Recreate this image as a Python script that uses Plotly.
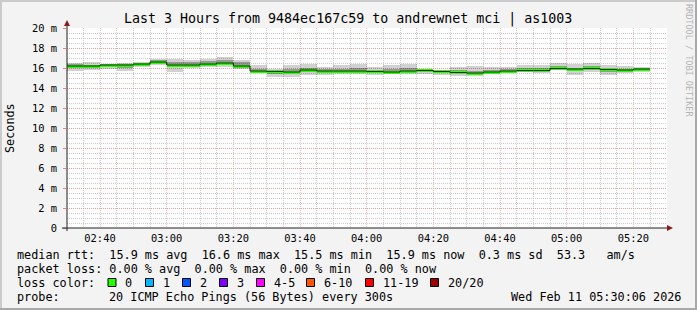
import pandas as pd
import plotly.graph_objects as go

# ---------------- data ----------------
interval_start = list(pd.date_range("2026-02-11 02:30:00", periods=35, freq="5min"))
step_ms = 300000

median_ms = [16.2, 16.2, 16.3, 16.3, 16.4, 16.6, 16.3, 16.3, 16.4, 16.5, 16.2, 15.7,
             15.65, 15.6, 15.8, 15.7, 15.7, 15.7, 15.65, 15.6, 15.7, 15.75, 15.65, 15.55,
             15.5, 15.6, 15.7, 15.75, 15.75, 15.95, 15.9, 15.95, 15.85, 15.8, 15.9]
smoke_max = [16.55, 16.6, 16.4, 16.5, 16.6, 16.95, 16.95, 16.85, 16.95, 17.1, 16.8, 16.3,
             15.95, 16.35, 16.45, 16.1, 16.3, 16.45, 16.1, 16.3, 16.45, 15.95, 15.8, 16.1,
             16.2, 16.1, 16.1, 16.3, 16.35, 16.5, 16.4, 16.5, 16.3, 16.25, 16.1]
smoke_min = [15.75, 15.8, 15.95, 15.7, 16.1, 16.3, 15.6, 16.0, 16.1, 16.1, 15.95, 15.55,
             15.1, 15.1, 15.3, 15.3, 15.4, 15.4, 15.3, 15.45, 15.45, 15.4, 15.3, 15.2,
             15.2, 15.6, 15.55, 15.6, 15.55, 15.8, 15.3, 15.6, 15.3, 15.55, 15.6]
inner_hi = [16.4, 16.3, 16.35, 16.35, 16.5, 16.8, 16.6, 16.6, 16.7, 16.8, 16.6, 15.9,
            15.8, 15.9, 16.0, 15.9, 15.9, 16.0, 15.8, 15.9, 16.0, 15.85, 15.8, 15.8,
            15.7, 15.8, 15.9, 16.0, 16.0, 16.2, 16.0, 16.2, 16.0, 15.95, 15.95]
inner_lo = [16.0, 16.1, 16.15, 16.0, 16.2, 16.4, 16.1, 16.2, 16.3, 16.3, 16.0, 15.6,
            15.4, 15.4, 15.6, 15.5, 15.6, 15.6, 15.5, 15.5, 15.6, 15.6, 15.5, 15.4,
            15.35, 15.5, 15.6, 15.65, 15.6, 15.85, 15.7, 15.8, 15.6, 15.7, 15.8]

y_tick_vals = [0, 2, 4, 6, 8, 10, 12, 14, 16, 18, 20]
y_tick_text = ["0", "2 m", "4 m", "6 m", "8 m", "10 m", "12 m", "14 m", "16 m", "18 m", "20 m"]

title_text = "Last 3 Hours from 9484ec167c59 to andrewnet mci | as1003"
legend_lines = [
    "median rtt:  15.9 ms avg  16.6 ms max  15.5 ms min  15.9 ms now  0.3 ms sd  53.3   am/s",
    "packet loss: 0.00 % avg  0.00 % max  0.00 % min  0.00 % now",
]
loss_labels = ["0", "1", "2", "3", "4-5", "6-10", "11-19", "20/20"]
loss_colors = ["#26ff00", "#00b8ff", "#0059ff", "#7e00ff", "#ff00ff", "#ff5500", "#ff0000", "#a00000"]
loss_box_x = [108, 145.5, 182.5, 219.5, 256.5, 306.5, 365.5, 430.5]
probe_text = "20 ICMP Echo Pings (56 Bytes) every 300s"
date_text = "Wed Feb 11 05:30:06 2026"

# --------------- geometry helpers (pixels -> paper) ---------------
PL, PR, PT, PB = 67, 667, 28, 228
W, H = 697, 310


def px(x, y):
    return (x - PL) / (PR - PL), (PB - y) / (PB - PT)


MONO = "DejaVu Sans Mono"
NB = "\u00a0"

fig = go.Figure()

# smoke: outer and inner bands
fig.add_trace(go.Bar(x=interval_start, y=[h - l for h, l in zip(smoke_max, smoke_min)],
                     base=smoke_min, width=step_ms, offset=0,
                     marker=dict(color="rgba(0,0,0,0.18)", line=dict(width=0)),
                     hoverinfo="skip"))
fig.add_trace(go.Bar(x=interval_start, y=[h - l for h, l in zip(inner_hi, inner_lo)],
                     base=inner_lo, width=step_ms, offset=0,
                     marker=dict(color="rgba(0,0,0,0.28)", line=dict(width=0)),
                     hoverinfo="skip"))
# thin dark median step line
fig.add_trace(go.Scatter(x=interval_start + [interval_start[-1] + pd.Timedelta(minutes=5)],
                         y=median_ms + [median_ms[-1]], mode="lines",
                         line=dict(color="#202020", width=1, shape="hv"),
                         hoverinfo="skip"))
# green median bands (loss colour 0)
band = 0.3
fig.add_trace(go.Bar(x=interval_start, y=[band] * len(median_ms),
                     base=[m - band / 2 for m in median_ms], width=step_ms, offset=0,
                     marker=dict(color=loss_colors[0], line=dict(width=0)),
                     hoverinfo="skip"))

shapes = []
# axis lines
x0, y0 = px(62, 228)
x1, _ = px(668, 228)
shapes.append(dict(type="line", xref="paper", yref="paper", x0=x0, y0=y0, x1=x1, y1=y0,
                   line=dict(color="#202020", width=1)))
ax, ay0 = px(67, 231)
_, ay1 = px(67, 24)
shapes.append(dict(type="line", xref="paper", yref="paper", x0=ax, y0=ay0, x1=ax, y1=ay1,
                   line=dict(color="#202020", width=1)))
# arrows
a1 = px(667, 225); a2 = px(673, 228); a3 = px(667, 231)
shapes.append(dict(type="path", xref="paper", yref="paper",
                   path=f"M {a1[0]} {a1[1]} L {a2[0]} {a2[1]} L {a3[0]} {a3[1]} Z",
                   fillcolor="#8b1a1a", line=dict(width=0)))
b1 = px(64, 26); b2 = px(67, 20); b3 = px(70, 26)
shapes.append(dict(type="path", xref="paper", yref="paper",
                   path=f"M {b1[0]} {b1[1]} L {b2[0]} {b2[1]} L {b3[0]} {b3[1]} Z",
                   fillcolor="#8b1a1a", line=dict(width=0)))
# loss colour swatches
for bx, col in zip(loss_box_x, loss_colors):
    p0 = px(bx, 286.5)
    p1 = px(bx + 8, 278.5)
    shapes.append(dict(type="rect", xref="paper", yref="paper", x0=p0[0], y0=p0[1], x1=p1[0], y1=p1[1],
                       fillcolor=col, line=dict(color="#000000", width=1)))
# 3D border
for (xa, ya, xb, yb, c) in [(0, 0, W, 2, "#cbcbcb"), (0, 0, 2, H, "#cbcbcb"),
                            (0, H - 2, W, H, "#a8a8a8"), (W - 2, 0, W, H, "#a8a8a8")]:
    p0 = px(xa, yb); p1 = px(xb, ya)
    shapes.append(dict(type="rect", xref="paper", yref="paper", x0=p0[0], y0=p0[1], x1=p1[0], y1=p1[1],
                       fillcolor=c, line=dict(width=0), layer="above"))

annotations = []


def text(x, y, s, size=11.8, anchor="left", color="#000000", angle=0):
    p = px(x, y)
    annotations.append(dict(x=p[0], y=p[1], xref="paper", yref="paper", text=s.replace(" ", NB),
                            showarrow=False, xanchor=anchor, yanchor="middle", textangle=angle,
                            font=dict(family=MONO, size=size, color=color)))


text(348, 19, title_text, size=13.3, anchor="center")
text(10, 128, "Seconds", size=11.8, anchor="center", angle=-90)
text(689, 60, "RRDTOOL / TOBI OETIKER", size=8.5, anchor="center", color="#b4b4b4", angle=90)
text(15, 254.5, legend_lines[0])
text(15, 268.5, legend_lines[1])
text(15, 282.5, "loss color:")
for bx, lab in zip(loss_box_x, loss_labels):
    text(bx + 15, 282.5, lab)
text(15, 296.5, "probe:")
text(107, 296.5, probe_text)
text(683, 296.5, date_text, anchor="right")

fig.update_layout(
    width=W, height=H, autosize=False,
    margin=dict(l=PL, r=W - PR, t=PT, b=H - PB, pad=0),
    paper_bgcolor="#f3f3f3", plot_bgcolor="#ffffff",
    barmode="overlay", bargap=0, showlegend=False,
    shapes=shapes, annotations=annotations,
    font=dict(family=MONO, size=10.4, color="#000000"),
)
fig.update_xaxes(
    type="date", range=["2026-02-11 02:30:06", "2026-02-11 05:30:06"],
    tick0="2026-02-11 02:40:00", dtick=1200000, tickformat="%H:%M",
    showgrid=True, gridcolor="rgba(235,130,130,0.55)", griddash="1px,1px", gridwidth=1,
    minor=dict(dtick=step_ms, tick0="2026-02-11 02:30:00", showgrid=True,
               gridcolor="rgba(170,170,170,0.6)", griddash="1px,1px", gridwidth=1),
    ticks="", showline=False, zeroline=False, ticklabelstandoff=3,
    tickfont=dict(family=MONO, size=10.4, color="#000000"),
)
fig.update_yaxes(
    range=[0, 20], tickvals=y_tick_vals, ticktext=y_tick_text,
    showgrid=True, gridcolor="rgba(235,130,130,0.55)", griddash="1px,1px", gridwidth=1,
    minor=dict(dtick=0.5, tick0=0, showgrid=True,
               gridcolor="rgba(170,170,170,0.6)", griddash="1px,1px", gridwidth=1),
    ticks="outside", ticklen=3, tickcolor="rgba(230,120,120,0.9)",
    showline=False, zeroline=False, ticklabelstandoff=4,
    tickfont=dict(family=MONO, size=10.4, color="#000000"),
)

fig.write_html("out.html")
